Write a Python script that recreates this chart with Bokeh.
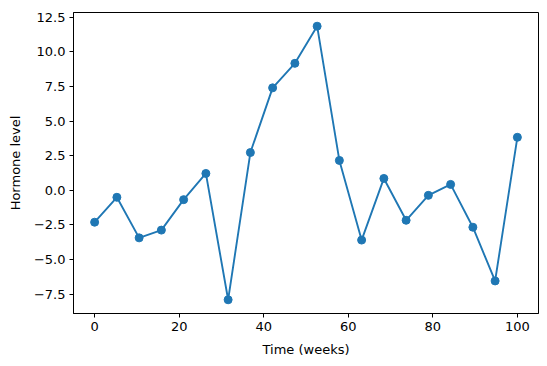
from bokeh.plotting import figure
from bokeh.models import FixedTicker, Range1d
from bokeh.embed import file_html
from bokeh.resources import INLINE

weeks = [0.0, 5.263, 10.526, 15.789, 21.053, 26.316, 31.579, 36.842, 42.105, 47.368,
         52.632, 57.895, 63.158, 68.421, 73.684, 78.947, 84.211, 89.474, 94.737, 100.0]
hormone = [-2.30, -0.50, -3.43, -2.87, -0.67, 1.22, -7.90, 2.73, 7.40, 9.17,
           11.85, 2.16, -3.59, 0.86, -2.16, -0.36, 0.43, -2.66, -6.54, 3.83]
x_ticks = [0, 20, 40, 60, 80, 100]
y_ticks = [-7.5, -5.0, -2.5, 0.0, 2.5, 5.0, 7.5, 10.0, 12.5]

color = "#1f77b4"
font = "DejaVu Sans"

p = figure(width=547, height=366, output_backend="svg", toolbar_location=None,
           x_range=Range1d(-5, 105), y_range=Range1d(-8.89, 12.84),
           min_border_left=73, min_border_right=9, min_border_top=12, min_border_bottom=53)

p.line(weeks, hormone, line_color=color, line_width=1.9)
p.scatter(weeks, hormone, size=8, fill_color=color, line_color=color)

p.xgrid.visible = False
p.ygrid.visible = False
p.outline_line_color = "black"
p.outline_line_width = 1

p.xaxis.ticker = FixedTicker(ticks=x_ticks)
p.yaxis.ticker = FixedTicker(ticks=y_ticks)
p.yaxis.major_label_overrides = {t: f"{t:.1f}".replace("-", "\u2212") for t in y_ticks}
p.xaxis.major_label_overrides = {t: str(t) for t in x_ticks}

for ax in (p.xaxis[0], p.yaxis[0]):
    ax.major_tick_in = 0
    ax.major_tick_out = 4
    ax.minor_tick_line_color = None
    ax.axis_line_color = "black"
    ax.major_tick_line_color = "black"
    ax.major_label_text_font = font
    ax.major_label_text_font_size = "13px"
    ax.major_label_text_color = "black"
    ax.axis_label_text_font = font
    ax.axis_label_text_font_size = "13px"
    ax.axis_label_text_font_style = "normal"
    ax.axis_label_text_color = "black"
    ax.major_label_standoff = 4
    ax.axis_label_standoff = 8

p.xaxis.axis_label = "Time (weeks)"
p.yaxis.axis_label = "Hormone level"

open("out.html", "w").write(file_html(p, INLINE))
